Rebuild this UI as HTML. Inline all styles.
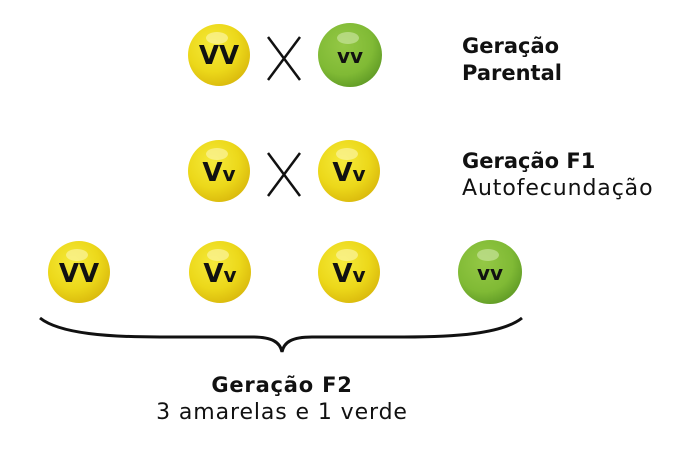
<!DOCTYPE html>
<html><head><meta charset="utf-8"><style>html,body{margin:0;padding:0;background:#fff;width:685px;height:466px;overflow:hidden}</style></head>
<body>
<svg width="685" height="466" viewBox="0 0 685 466" xmlns="http://www.w3.org/2000/svg">
<defs>
<radialGradient id="y" cx="0.4" cy="0.35" r="0.7">
<stop offset="0" stop-color="#f5ea3a"/><stop offset="0.6" stop-color="#ecd81a"/><stop offset="1" stop-color="#d9b80c"/>
</radialGradient>
<radialGradient id="g" cx="0.4" cy="0.35" r="0.7">
<stop offset="0" stop-color="#94c845"/><stop offset="0.65" stop-color="#80ba35"/><stop offset="1" stop-color="#5f9a25"/>
</radialGradient>
<g id="py"><circle r="31" fill="url(#y)"/><ellipse cx="-2" cy="-17" rx="11" ry="6" fill="#fbf3a0" opacity="0.7"/></g>
<g id="pg"><circle r="32" fill="url(#g)"/><ellipse cx="-2" cy="-17" rx="11" ry="6" fill="#c6e39a" opacity="0.7"/></g>
</defs>
<g font-family="'DejaVu Sans','Liberation Sans',sans-serif" font-weight="bold" fill="#111" text-anchor="middle">
<use href="#py" x="219" y="55"/><text x="219" y="64" font-size="26">VV</text>
<use href="#pg" x="350" y="55"/><text x="350" y="63" font-size="20">vv</text>
<use href="#py" x="219" y="171"/><text x="219" y="181" font-size="26">V<tspan font-size="20">v</tspan></text>
<use href="#py" x="349" y="171"/><text x="349" y="181" font-size="26">V<tspan font-size="20">v</tspan></text>
<use href="#py" x="79" y="272"/><text x="79" y="282" font-size="26">VV</text>
<use href="#py" x="220" y="272"/><text x="220" y="282" font-size="26">V<tspan font-size="20">v</tspan></text>
<use href="#py" x="349" y="272"/><text x="349" y="282" font-size="26">V<tspan font-size="20">v</tspan></text>
<use href="#pg" x="490" y="272"/><text x="490" y="280" font-size="20">vv</text>
</g>
<g stroke="#111" stroke-width="2.5">
<line x1="268" y1="37" x2="300" y2="80"/><line x1="300" y1="37" x2="268" y2="80"/>
<line x1="268" y1="153" x2="300" y2="196"/><line x1="300" y1="153" x2="268" y2="196"/>
</g>
<path d="M40,318 C60,334 110,337 160,337 L252,337 C272,337 280,342 282,352 C284,342 292,337 312,337 L404,337 C454,337 502,334 522,318" fill="none" stroke="#111" stroke-width="3"/>
<g font-family="'DejaVu Sans','Liberation Sans',sans-serif" fill="#111">
<text x="462" y="53" font-weight="bold" font-size="21">Geração</text>
<text x="462" y="80" font-weight="bold" font-size="21">Parental</text>
<text x="462" y="168" font-weight="bold" font-size="21">Geração F1</text>
<text x="462" y="195" font-size="22" letter-spacing="0.9">Autofecundação</text>
<text x="282" y="392" font-weight="bold" font-size="21" letter-spacing="0.8" text-anchor="middle">Geração F2</text>
<text x="282" y="419" font-size="22" letter-spacing="0.9" text-anchor="middle">3 amarelas e 1 verde</text>
</g>
</svg>
</body></html>
